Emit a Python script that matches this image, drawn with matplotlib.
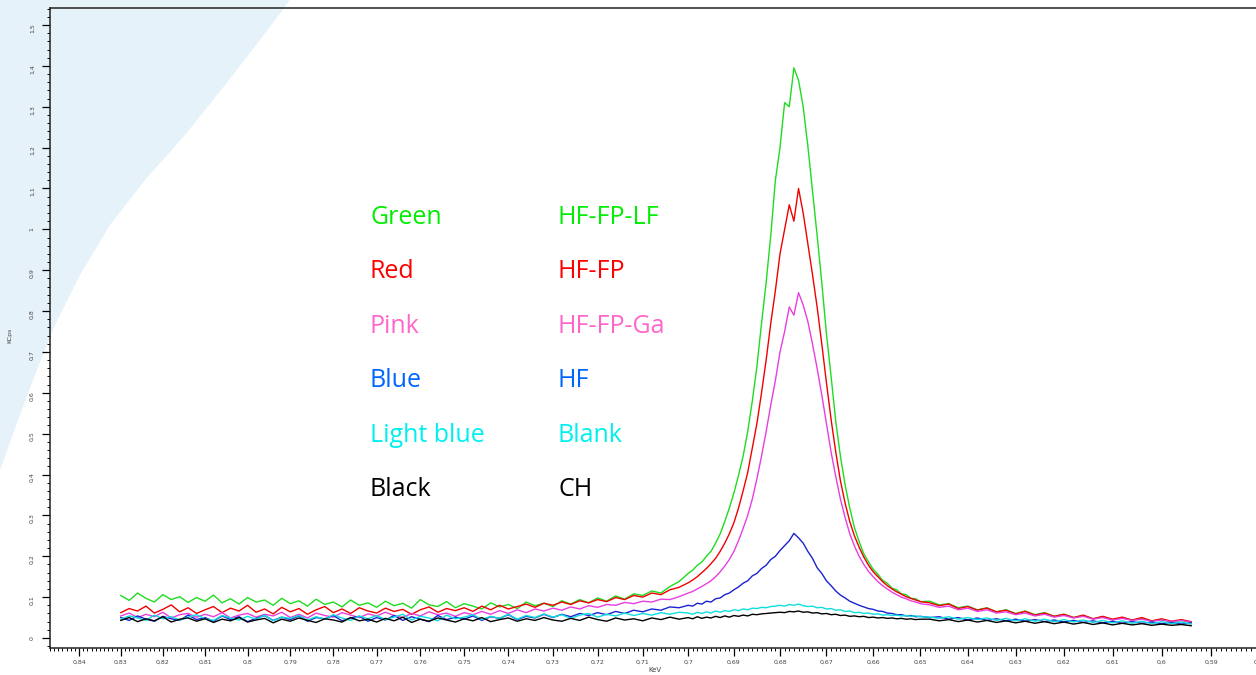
import numpy as np
import matplotlib.pyplot as plt
from matplotlib.patches import Polygon
from matplotlib.ticker import MultipleLocator, FuncFormatter

# energy channels (keV): coarse on the tails, finer across the F K-alpha peak
kev = np.concatenate([np.round(np.arange(0.830, 0.7015, -0.002), 3),
                      np.round(np.arange(0.700, 0.6495, -0.001), 3),
                      np.round(np.arange(0.648, 0.5935, -0.002), 3)])

green = [.104, .092, .110, .097, .088, .106, .094, .101, .087, .099,
         .090, .105, .086, .096, .083, .099, .088, .093, .080, .097,
         .084, .091, .078, .095, .082, .088, .076, .093, .080, .086,
         .075, .090, .079, .085, .073, .094, .081, .077, .089, .074,
         .084, .078, .071, .086, .076, .082, .072, .088, .079, .085,
         .077, .091, .083, .094, .086, .098, .090, .103, .095, .108,
         .104, .115, .110, .126, .138,
         .158, .166, .178, .186, .200, .212, .232, .255, .285, .318,
         .355, .398, .445, .505, .580, .665, .770, .870, .985, 1.120,
         1.200, 1.310, 1.300, 1.395, 1.365, 1.300, 1.205, 1.095, .985, .870,
         .745, .640, .530, .445, .375, .318, .270, .236, .206, .186,
         .168, .156, .141, .134, .122, .118, .108, .106, .097, .096, .089,
         .090, .081, .084, .074, .078, .069, .074, .064, .069, .060,
         .066, .057, .062, .053, .058, .050, .055, .047, .052, .045,
         .050, .043, .048, .041, .045, .039, .043, .038]

red = [.062, .072, .066, .078, .061, .070, .081, .064, .074, .060,
       .069, .077, .062, .073, .066, .080, .063, .071, .059, .075,
       .064, .072, .058, .069, .077, .062, .071, .060, .074, .066,
       .061, .073, .065, .070, .058, .069, .076, .063, .072, .067,
       .074, .065, .078, .069, .080, .071, .077, .083, .075, .085,
       .080, .088, .082, .091, .086, .094, .089, .099, .094, .104,
       .100, .110, .106, .118, .124,
       .135, .142, .150, .160, .170, .182, .195, .212, .232, .255,
       .282, .318, .360, .405, .465, .525, .600, .680, .770, .850,
       .940, 1.000, 1.060, 1.020, 1.100, 1.040, .965, .890, .810, .720,
       .625, .535, .455, .385, .330, .285, .250, .222, .198, .178,
       .162, .150, .138, .128, .120, .113, .107, .101, .097, .093, .089,
       .086, .079, .083, .072, .077, .068, .073, .064, .068, .059,
       .065, .056, .061, .053, .058, .050, .056, .047, .053, .046,
       .051, .044, .050, .042, .047, .041, .045, .040]

pink = [.054, .061, .050, .058, .052, .063, .049, .057, .060, .051,
        .058, .052, .062, .049, .056, .060, .051, .058, .054, .063,
        .050, .058, .049, .061, .055, .051, .062, .056, .050, .059,
        .054, .063, .055, .050, .060, .054, .064, .057, .061, .053,
        .062, .057, .065, .058, .067, .060, .069, .062, .071, .066,
        .073, .068, .076, .071, .079, .075, .082, .080, .087, .084,
        .090, .088, .095, .094, .101,
        .110, .114, .120, .126, .133, .140, .150, .162, .176, .192,
        .212, .238, .268, .300, .340, .390, .445, .505, .570, .630,
        .700, .750, .810, .790, .845, .815, .775, .720, .660, .595,
        .525, .455, .395, .340, .295, .255, .225, .200, .180, .163,
        .150, .138, .128, .120, .112, .106, .100, .096, .091, .088, .084,
        .081, .075, .078, .069, .073, .065, .069, .061, .064, .057,
        .061, .054, .058, .051, .055, .049, .053, .046, .050, .044,
        .048, .043, .046, .041, .044, .040, .043, .039]

blue = [.050, .043, .054, .046, .041, .053, .047, .043, .056, .045,
        .050, .041, .054, .045, .052, .040, .048, .055, .043, .051,
        .045, .054, .041, .050, .047, .055, .042, .049, .053, .041,
        .050, .044, .055, .043, .052, .046, .040, .055, .045, .051,
        .046, .054, .043, .052, .048, .057, .045, .053, .049, .058,
        .050, .058, .052, .060, .055, .062, .057, .065, .060, .068,
        .064, .071, .068, .076, .074,
        .080, .078, .085, .083, .090, .088, .096, .098, .106, .110,
        .118, .125, .134, .140, .152, .158, .170, .178, .192, .200,
        .214, .226, .238, .256, .245, .232, .212, .195, .172, .158,
        .140, .128, .115, .105, .098, .090, .085, .080, .076, .072,
        .070, .066, .065, .061, .060, .057, .057, .054, .055, .052, .053,
        .050, .052, .046, .050, .044, .049, .043, .047, .042, .046,
        .041, .045, .040, .044, .039, .043, .038, .042, .037, .041,
        .036, .040, .036, .039, .035, .038, .034, .037]

light_blue = [.046, .054, .049, .043, .056, .047, .052, .044, .051, .057,
              .047, .043, .055, .049, .044, .053, .046, .056, .042, .051,
              .048, .055, .044, .052, .046, .057, .049, .043, .054, .047,
              .055, .045, .051, .058, .044, .053, .049, .042, .056, .047,
              .051, .057, .045, .053, .048, .058, .046, .055, .050, .059,
              .051, .057, .048, .056, .060, .051, .058, .054, .061, .055,
              .060, .056, .062, .058, .063,
              .061, .058, .063, .060, .064, .061, .066, .063, .067, .065,
              .069, .067, .071, .069, .073, .072, .075, .074, .077, .078,
              .080, .078, .082, .080, .083, .079, .077, .078, .074, .075,
              .071, .072, .068, .069, .065, .066, .062, .063, .060, .061,
              .058, .059, .056, .057, .055, .056, .054, .055, .053, .054, .052,
              .051, .048, .052, .046, .050, .045, .049, .043, .048, .042,
              .047, .041, .046, .040, .045, .039, .044, .038, .043, .037,
              .042, .036, .041, .035, .040, .035, .039, .034]

black = [.043, .050, .040, .047, .042, .052, .039, .046, .049, .041,
         .047, .038, .046, .042, .050, .039, .044, .048, .037, .046,
         .041, .049, .043, .038, .047, .044, .039, .050, .042, .046,
         .039, .048, .042, .051, .038, .046, .041, .049, .044, .039,
         .047, .042, .050, .040, .045, .049, .041, .047, .043, .050,
         .044, .041, .048, .043, .051, .045, .041, .049, .044, .047,
         .042, .049, .045, .051, .046,
         .050, .047, .052, .048, .051, .049, .053, .050, .054, .051,
         .055, .053, .056, .054, .058, .057, .059, .060, .061, .062,
         .063, .062, .065, .064, .066, .063, .064, .061, .062, .059,
         .060, .057, .058, .055, .056, .053, .054, .052, .053, .050,
         .051, .049, .050, .048, .049, .047, .048, .046, .047, .045, .046,
         .046, .042, .045, .040, .044, .039, .043, .038, .042, .037,
         .041, .036, .040, .035, .039, .034, .038, .033, .037, .032,
         .036, .032, .035, .031, .034, .031, .033, .030]

series = [green, red, pink, blue, light_blue, black]
line_colors = ['#1fdc1f', '#f00000', '#e83ee0', '#1a22d0', '#10dede', '#000000']

names = ['Green', 'Red', 'Pink', 'Blue', 'Light blue', 'Black']
samples = ['HF-FP-LF', 'HF-FP', 'HF-FP-Ga', 'HF', 'Blank', 'CH']
text_colors = ['#00ee00', '#ff0000', '#ff66cc', '#0066ff', '#00f0f0', '#000000']

W, H = 1256, 675
fig = plt.figure(figsize=(W / 100, H / 100), dpi=100)

# light blue swoosh behind the chart
swoosh = [(0, 0), (290, 0), (260, 40), (225, 85), (185, 135), (145, 180),
          (110, 225), (80, 275), (55, 325), (35, 375), (18, 420), (0, 470)]
fig.patches.append(Polygon([(x / W, 1 - y / H) for x, y in swoosh],
                           closed=True, transform=fig.transFigure,
                           facecolor='#e6f2fa', edgecolor='none', zorder=-1))

ax = fig.add_axes([50 / W, 27 / H, 1240 / W, 640 / H])
ax.set_facecolor('none')
ax.set_zorder(1)

ax.set_xscale('function', functions=(lambda e: np.sqrt(np.abs(e)), lambda s: s ** 2))

for vals, c in zip(series, line_colors):
    ax.plot(kev, vals, color=c, linewidth=1.0)

ax.set_xlim(0.847, 0.5742)
ax.set_ylim(-0.0245, 1.5416)

fmt = FuncFormatter(lambda v, p: ('%g' % round(v, 2)).replace('.', ','))
ax.xaxis.set_major_locator(MultipleLocator(0.01))
ax.xaxis.set_minor_locator(MultipleLocator(0.001))
ax.yaxis.set_major_locator(MultipleLocator(0.1))
ax.yaxis.set_minor_locator(MultipleLocator(0.02))
ax.xaxis.set_major_formatter(fmt)
ax.yaxis.set_major_formatter(fmt)

ax.tick_params(which='major', direction='out', length=6, width=0.9,
               labelsize=4.5, labelcolor='#444444')
ax.tick_params(which='minor', direction='out', length=2.5, width=0.7)
ax.tick_params(axis='x', pad=2.5)
ax.tick_params(axis='y', labelrotation=90, pad=5)
ax.spines['right'].set_visible(False)
for s in ['left', 'top', 'bottom']:
    ax.spines[s].set_linewidth(1.1)
    ax.spines[s].set_color('#222222')

fig.text(10 / W, 1 - 335 / H, 'KCps', rotation=90, fontsize=4.5,
         color='#444444', ha='center', va='center')
fig.text(655 / W, 1 - 670 / H, 'KeV', fontsize=5, color='#444444',
         ha='center', va='center')

for k in range(len(names)):
    yb = 1 - (224 + 54.4 * k) / H
    fig.text(370 / W, yb, names[k], color=text_colors[k], fontsize=18,
             family='Open Sans', va='baseline', ha='left')
    fig.text(558 / W, yb, samples[k], color=text_colors[k], fontsize=18,
             family='Open Sans', va='baseline', ha='left')

fig.savefig('out.png', dpi=100)
